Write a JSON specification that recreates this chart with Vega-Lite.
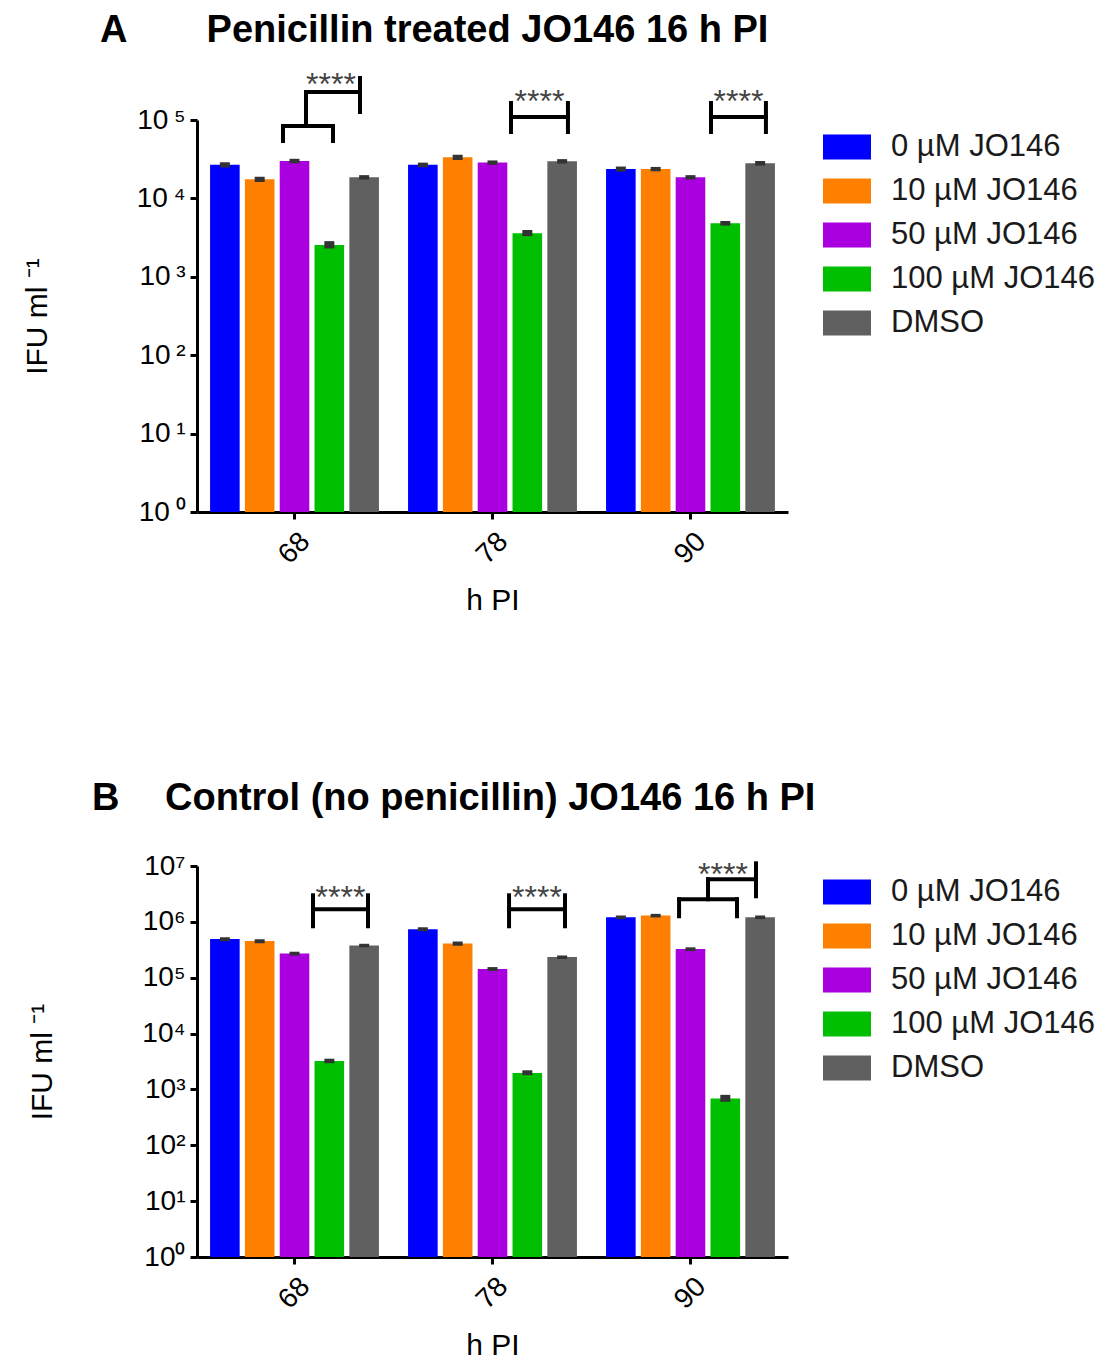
{
  "$schema": "https://vega.github.io/schema/vega-lite/v6.json",
  "background": "white",
  "padding": {"top": 12, "left": 22, "right": 0, "bottom": 5},
  "config": {
    "view": {"stroke": null},
    "font": "Liberation Sans",
    "axis": {
      "labelFont": "Liberation Sans", "titleFont": "Liberation Sans",
      "labelColor": "black", "titleColor": "black",
      "domainColor": "black", "domainWidth": 3, "tickColor": "black", "tickWidth": 3, "tickSize": 7,
      "grid": false, "labelFontSize": 28, "titleFontWeight": "normal"
    },
    "legend": {
      "orient": "none", "title": null, "padding": 0,
      "symbolType": "M-1,-0.52H1V0.52H-1Z", "symbolSize": 2304, "symbolStrokeWidth": 0,
      "labelFont": "Liberation Sans", "labelFontSize": 31, "labelColor": "#1a1a1a",
      "labelOffset": 20, "rowPadding": 5, "labelLimit": 400
    },
    "title": {"font": "Liberation Sans", "fontSize": 38, "fontWeight": "bold", "color": "black", "anchor": "start", "frame": "group", "baseline": "alphabetic"}
  },
  "datasets": {
    "barsA": [
      {"time": "68", "treatment": "0 µM JO146", "ifu": 26800, "lo": 24800, "hi": 28900},
      {"time": "68", "treatment": "10 µM JO146", "ifu": 17500, "lo": 16200, "hi": 18900},
      {"time": "68", "treatment": "50 µM JO146", "ifu": 30000, "lo": 28000, "hi": 32000},
      {"time": "68", "treatment": "100 µM JO146", "ifu": 2550, "lo": 2300, "hi": 2850},
      {"time": "68", "treatment": "DMSO", "ifu": 18600, "lo": 17400, "hi": 19800},
      {"time": "78", "treatment": "0 µM JO146", "ifu": 26800, "lo": 25000, "hi": 28600},
      {"time": "78", "treatment": "10 µM JO146", "ifu": 33400, "lo": 31000, "hi": 36000},
      {"time": "78", "treatment": "50 µM JO146", "ifu": 28600, "lo": 26800, "hi": 30500},
      {"time": "78", "treatment": "100 µM JO146", "ifu": 3590, "lo": 3300, "hi": 3950},
      {"time": "78", "treatment": "DMSO", "ifu": 29700, "lo": 27800, "hi": 31700},
      {"time": "90", "treatment": "0 µM JO146", "ifu": 23700, "lo": 22000, "hi": 25500},
      {"time": "90", "treatment": "10 µM JO146", "ifu": 23700, "lo": 22200, "hi": 25200},
      {"time": "90", "treatment": "50 µM JO146", "ifu": 18600, "lo": 17400, "hi": 19800},
      {"time": "90", "treatment": "100 µM JO146", "ifu": 4810, "lo": 4500, "hi": 5150},
      {"time": "90", "treatment": "DMSO", "ifu": 28000, "lo": 26200, "hi": 30000}
    ],
    "barsB": [
      {"time": "68", "treatment": "0 µM JO146", "ifu": 491000, "lo": 450000, "hi": 530000},
      {"time": "68", "treatment": "10 µM JO146", "ifu": 453000, "lo": 415000, "hi": 490000},
      {"time": "68", "treatment": "50 µM JO146", "ifu": 272000, "lo": 250000, "hi": 292000},
      {"time": "68", "treatment": "100 µM JO146", "ifu": 3220, "lo": 2950, "hi": 3550},
      {"time": "68", "treatment": "DMSO", "ifu": 378000, "lo": 350000, "hi": 405000},
      {"time": "78", "treatment": "0 µM JO146", "ifu": 741000, "lo": 680000, "hi": 800000},
      {"time": "78", "treatment": "10 µM JO146", "ifu": 410000, "lo": 375000, "hi": 445000},
      {"time": "78", "treatment": "50 µM JO146", "ifu": 143000, "lo": 132000, "hi": 155000},
      {"time": "78", "treatment": "100 µM JO146", "ifu": 1970, "lo": 1800, "hi": 2200},
      {"time": "78", "treatment": "DMSO", "ifu": 234000, "lo": 217000, "hi": 250000},
      {"time": "90", "treatment": "0 µM JO146", "ifu": 1213000, "lo": 1120000, "hi": 1300000},
      {"time": "90", "treatment": "10 µM JO146", "ifu": 1297000, "lo": 1200000, "hi": 1390000},
      {"time": "90", "treatment": "50 µM JO146", "ifu": 326000, "lo": 300000, "hi": 350000},
      {"time": "90", "treatment": "100 µM JO146", "ifu": 687, "lo": 600, "hi": 800},
      {"time": "90", "treatment": "DMSO", "ifu": 1213000, "lo": 1120000, "hi": 1300000}
    ],
    "bracketsA": [
      {"u": 0.4365, "u2": 0.4365, "v": 54000, "v2": 83800},
      {"u": 0.6904, "u2": 0.6904, "v": 54000, "v2": 83800},
      {"u": 0.4365, "u2": 0.6904, "v": 83800, "v2": 83800},
      {"u": 0.5533, "u2": 0.5533, "v": 83800, "v2": 227500},
      {"u": 0.5533, "u2": 0.8274, "v": 227500, "v2": 227500},
      {"u": 0.8274, "u2": 0.8274, "v": 126500, "v2": 343500},
      {"u": 1.594, "u2": 1.594, "v": 70300, "v2": 164800},
      {"u": 1.883, "u2": 1.883, "v": 70300, "v2": 164800},
      {"u": 1.594, "u2": 1.883, "v": 109200, "v2": 109200},
      {"u": 2.609, "u2": 2.609, "v": 70300, "v2": 164800},
      {"u": 2.888, "u2": 2.888, "v": 70300, "v2": 164800},
      {"u": 2.609, "u2": 2.888, "v": 109200, "v2": 109200}
    ],
    "starsA": [
      {"u": 0.680, "v": 205500, "label": "****"},
      {"u": 1.7386, "v": 124700, "label": "****"},
      {"u": 2.7487, "v": 124700, "label": "****"}
    ],
    "bracketsB": [
      {"u": 0.5888, "u2": 0.5888, "v": 834000, "v2": 2990000},
      {"u": 0.868, "u2": 0.868, "v": 834000, "v2": 2990000},
      {"u": 0.5888, "u2": 0.868, "v": 1680000, "v2": 1680000},
      {"u": 1.584, "u2": 1.584, "v": 834000, "v2": 2990000},
      {"u": 1.868, "u2": 1.868, "v": 834000, "v2": 2990000},
      {"u": 1.584, "u2": 1.868, "v": 1680000, "v2": 1680000},
      {"u": 2.447, "u2": 2.447, "v": 1260000, "v2": 2540000},
      {"u": 2.741, "u2": 2.741, "v": 1260000, "v2": 2540000},
      {"u": 2.447, "u2": 2.741, "v": 2540000, "v2": 2540000},
      {"u": 2.594, "u2": 2.594, "v": 2540000, "v2": 5780000},
      {"u": 2.594, "u2": 2.8376, "v": 5780000, "v2": 5780000},
      {"u": 2.8376, "u2": 2.8376, "v": 2870000, "v2": 11170000}
    ],
    "starsB": [
      {"u": 0.7284, "v": 1740000, "label": "****"},
      {"u": 1.726, "v": 1740000, "label": "****"},
      {"u": 2.670, "v": 4480000, "label": "****"}
    ]
  },
  "spacing": 164,
  "resolve": {"scale": {"x": "independent", "y": "independent", "color": "independent"}, "legend": {"color": "independent"}},
  "vconcat": [
    {
      "width": 591, "height": 392,
      "title": {"text": "A\u2003\u2003\u200aPenicillin treated JO146 16 h PI", "dx": -97, "offset": 19},
      "resolve": {"scale": {"x": "independent"}},
      "layer": [
        {
          "data": {"name": "barsA"},
          "layer": [
            {
              "mark": {"type": "bar"},
              "encoding": {
                "x": {"field": "time", "type": "nominal", "title": "h PI",
                  "scale": {"paddingInner": 0.147, "paddingOuter": 0.066},
                  "axis": {"labelAngle": -45, "labelAlign": "center", "labelBaseline": "middle", "labelPadding": 29, "labelDx": -11, "titleFontSize": 30, "titlePadding": 17}},
                "xOffset": {"field": "treatment", "type": "nominal", "sort": ["0 µM JO146", "10 µM JO146", "50 µM JO146", "100 µM JO146", "DMSO"], "scale": {"paddingInner": 0.15}},
                "y": {"field": "ifu", "type": "quantitative", "title": "IFU ml ⁻¹",
                  "scale": {"type": "log", "domain": [1, 100000], "nice": false},
                  "axis": {"values": [1, 10, 100, 1000, 10000, 100000], "labelExpr": "'10\u2009' + ['⁰','¹','²','³','⁴','⁵','⁶','⁷'][round(log(datum.value)/LN10)]", "labelPadding": 5, "titleFontSize": 30, "titlePadding": 84}},
                "y2": {"datum": 1},
                "color": {"field": "treatment", "type": "nominal",
                  "scale": {"domain": ["0 µM JO146", "10 µM JO146", "50 µM JO146", "100 µM JO146", "DMSO"], "range": ["#0000ff", "#ff8000", "#aa00e0", "#00be00", "#606060"]},
                  "legend": {"legendX": 626, "legendY": 3}}
              }
            },
            {
              "mark": {"type": "bar", "width": 10, "color": "#333333"},
              "encoding": {
                "x": {"field": "time", "type": "nominal"},
                "xOffset": {"field": "treatment", "type": "nominal", "sort": ["0 µM JO146", "10 µM JO146", "50 µM JO146", "100 µM JO146", "DMSO"]},
                "y": {"field": "lo", "type": "quantitative"},
                "y2": {"field": "hi"}
              }
            }
          ]
        },
        {
          "layer": [
            {
              "data": {"name": "bracketsA"},
              "mark": {"type": "rule", "strokeWidth": 4, "color": "black", "strokeCap": "square"},
              "encoding": {
                "x": {"field": "u", "type": "quantitative", "scale": {"domain": [0, 3], "nice": false, "zero": false}, "axis": null},
                "x2": {"field": "u2"},
                "y": {"field": "v", "type": "quantitative"},
                "y2": {"field": "v2"}
              }
            },
            {
              "data": {"name": "starsA"},
              "mark": {"type": "text", "fontSize": 32, "color": "#444444", "baseline": "alphabetic", "align": "center", "font": "Liberation Sans"},
              "encoding": {
                "x": {"field": "u", "type": "quantitative"},
                "y": {"field": "v", "type": "quantitative"},
                "text": {"field": "label"}
              }
            }
          ]
        }
      ]
    },
    {
      "width": 591, "height": 391,
      "title": {"text": "B\u2003\u2009Control (no penicillin) JO146 16 h PI", "dx": -105, "offset": 34},
      "resolve": {"scale": {"x": "independent"}},
      "layer": [
        {
          "data": {"name": "barsB"},
          "layer": [
            {
              "mark": {"type": "bar"},
              "encoding": {
                "x": {"field": "time", "type": "nominal", "title": "h PI",
                  "scale": {"paddingInner": 0.147, "paddingOuter": 0.066},
                  "axis": {"labelAngle": -45, "labelAlign": "center", "labelBaseline": "middle", "labelPadding": 29, "labelDx": -11, "titleFontSize": 30, "titlePadding": 17}},
                "xOffset": {"field": "treatment", "type": "nominal", "sort": ["0 µM JO146", "10 µM JO146", "50 µM JO146", "100 µM JO146", "DMSO"], "scale": {"paddingInner": 0.15}},
                "y": {"field": "ifu", "type": "quantitative", "title": "IFU ml ⁻¹",
                  "scale": {"type": "log", "domain": [1, 10000000], "nice": false},
                  "axis": {"values": [1, 10, 100, 1000, 10000, 100000, 1000000, 10000000], "labelExpr": "'10' + ['⁰','¹','²','³','⁴','⁵','⁶','⁷'][round(log(datum.value)/LN10)]", "labelPadding": 5, "titleFontSize": 30, "titlePadding": 84}},
                "y2": {"datum": 1},
                "color": {"field": "treatment", "type": "nominal",
                  "scale": {"domain": ["0 µM JO146", "10 µM JO146", "50 µM JO146", "100 µM JO146", "DMSO"], "range": ["#0000ff", "#ff8000", "#aa00e0", "#00be00", "#606060"]},
                  "legend": {"legendX": 626, "legendY": 2}}
              }
            },
            {
              "mark": {"type": "bar", "width": 10, "color": "#333333"},
              "encoding": {
                "x": {"field": "time", "type": "nominal"},
                "xOffset": {"field": "treatment", "type": "nominal", "sort": ["0 µM JO146", "10 µM JO146", "50 µM JO146", "100 µM JO146", "DMSO"]},
                "y": {"field": "lo", "type": "quantitative"},
                "y2": {"field": "hi"}
              }
            }
          ]
        },
        {
          "layer": [
            {
              "data": {"name": "bracketsB"},
              "mark": {"type": "rule", "strokeWidth": 4, "color": "black", "strokeCap": "square"},
              "encoding": {
                "x": {"field": "u", "type": "quantitative", "scale": {"domain": [0, 3], "nice": false, "zero": false}, "axis": null},
                "x2": {"field": "u2"},
                "y": {"field": "v", "type": "quantitative"},
                "y2": {"field": "v2"}
              }
            },
            {
              "data": {"name": "starsB"},
              "mark": {"type": "text", "fontSize": 32, "color": "#444444", "baseline": "alphabetic", "align": "center", "font": "Liberation Sans"},
              "encoding": {
                "x": {"field": "u", "type": "quantitative"},
                "y": {"field": "v", "type": "quantitative"},
                "text": {"field": "label"}
              }
            }
          ]
        }
      ]
    }
  ]
}
